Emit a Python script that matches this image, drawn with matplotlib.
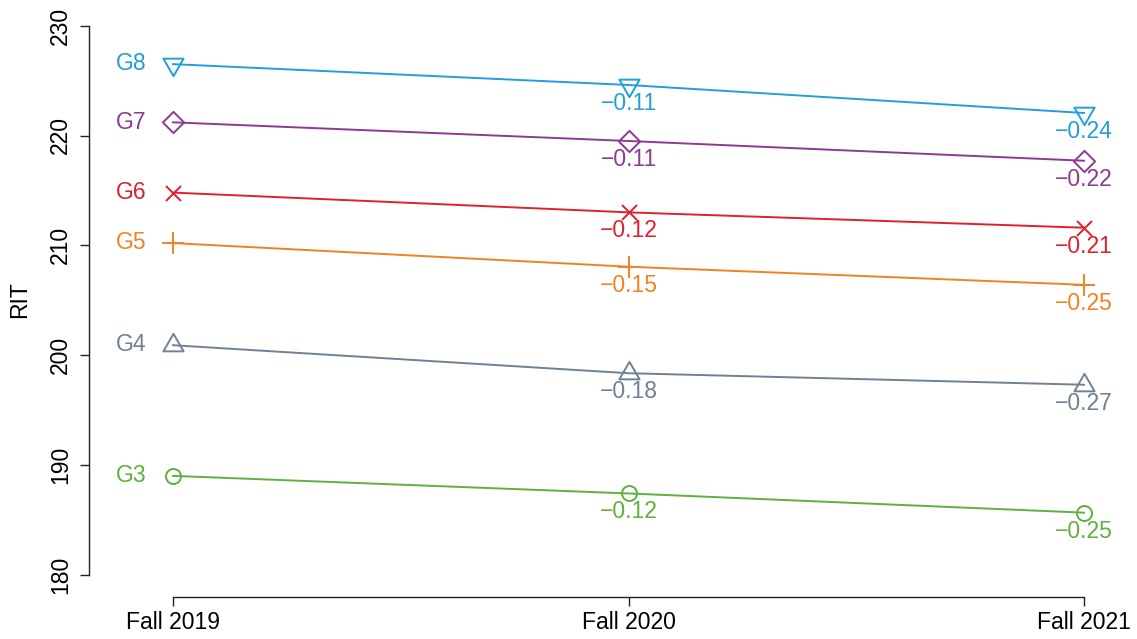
import matplotlib
matplotlib.use("Agg")
import matplotlib.pyplot as plt
from matplotlib.path import Path
import numpy as np

plt.rcParams['font.family'] = ['Liberation Sans', 'DejaVu Sans']

# ---- data ----
terms = ["Fall 2019", "Fall 2020", "Fall 2021"]
grades = ["G3", "G4", "G5", "G6", "G7", "G8"]
g3 = [189.0, 187.4, 185.65]
g4 = [200.9, 198.35, 197.3]
g5 = [210.2, 208.05, 206.4]
g6 = [214.8, 213.0, 211.6]
g7 = [221.2, 219.5, 217.7]
g8 = [226.5, 224.6, 222.05]
series = [g3, g4, g5, g6, g7, g8]
chg_g3 = ["−0.12", "−0.25"]
chg_g4 = ["−0.18", "−0.27"]
chg_g5 = ["−0.15", "−0.25"]
chg_g6 = ["−0.12", "−0.21"]
chg_g7 = ["−0.11", "−0.22"]
chg_g8 = ["−0.11", "−0.24"]
changes = [chg_g3, chg_g4, chg_g5, chg_g6, chg_g7, chg_g8]
yticks = [180, 190, 200, 210, 220, 230]

colors = ["#5eb13e", "#6f8194", "#ef8322", "#e0202c", "#8c3a92", "#229fd8"]

# R-style marker shapes (units of R RADIUS)
tri_up = Path([(0, 1.555), (1.347, -0.778), (-1.347, -0.778), (0, 1.555)],
              [Path.MOVETO, Path.LINETO, Path.LINETO, Path.CLOSEPOLY])
tri_dn = Path([(0, -1.555), (1.347, 0.778), (-1.347, 0.778), (0, -1.555)],
              [Path.MOVETO, Path.LINETO, Path.LINETO, Path.CLOSEPOLY])
diamond = Path([(0, 1.414), (1.414, 0), (0, -1.414), (-1.414, 0), (0, 1.414)],
               [Path.MOVETO, Path.LINETO, Path.LINETO, Path.LINETO, Path.CLOSEPOLY])
R_px = 7.5
px2pt = 72 / 100
markers = [
    ("o", 2 * R_px * px2pt),
    (tri_up, 2 * 1.555 * R_px * px2pt),
    ("+", 2 * 1.414 * R_px * px2pt),
    ("x", 2 * R_px * px2pt),
    (diamond, 2 * 1.414 * R_px * px2pt),
    (tri_dn, 2 * 1.555 * R_px * px2pt),
]

W, H = 1137, 639
fig = plt.figure(figsize=(W / 100, H / 100), dpi=100)
left_px, right_px, top_px, bot_px = 89, 1130, 3.7, 597
ax = fig.add_axes([left_px / W, (H - bot_px) / H, (right_px - left_px) / W, (bot_px - top_px) / H])

x = np.arange(1, len(terms) + 1)
fs = 16.5
for vals, col, (mk, ms), g, ch in zip(series, colors, markers, grades, changes):
    ax.plot(x, vals, color=col, lw=1.4, marker=mk, markersize=ms,
            markerfacecolor='none', markeredgecolor=col, markeredgewidth=1.4,
            clip_on=False)
    ax.annotate(g, (x[0], vals[0]), xytext=(-19, -4.5), textcoords='offset points',
                ha='right', va='baseline', color=col, fontsize=fs)
    for xi, vi, lab in zip(x[1:], vals[1:], ch):
        ax.annotate(lab, (xi, vi), xytext=(0, -18), textcoords='offset points',
                    ha='center', va='baseline', color=col, fontsize=fs)

def xpix(p):
    return 1 + (p - 173) / 455.5

def ypix(p):
    return 230 - (p - 25.7) / 10.98

ax.set_xlim(xpix(left_px), xpix(right_px))
ax.set_ylim(ypix(bot_px), ypix(top_px))

for s in ["top", "right"]:
    ax.spines[s].set_visible(False)
ax.spines["left"].set_bounds(yticks[0], yticks[-1])
ax.spines["bottom"].set_bounds(x[0], x[-1])
for s in ["left", "bottom"]:
    ax.spines[s].set_linewidth(1.0)
    ax.spines[s].set_color("#222222")

ax.set_xticks(x)
ax.set_xticklabels(terms, fontsize=fs)
ax.set_yticks(yticks)
ax.set_yticklabels([str(v) for v in yticks], fontsize=fs, rotation=90, va='center')
ax.tick_params(axis='both', length=6.5, width=1.0, color="#222222")
ax.tick_params(axis='x', pad=3.6)
ax.tick_params(axis='y', pad=5.5)

fig.text(19.5 / W, 1 - 300 / H, "RIT", rotation=90, ha='center', va='center', fontsize=fs)

fig.savefig("out.png", dpi=100)
